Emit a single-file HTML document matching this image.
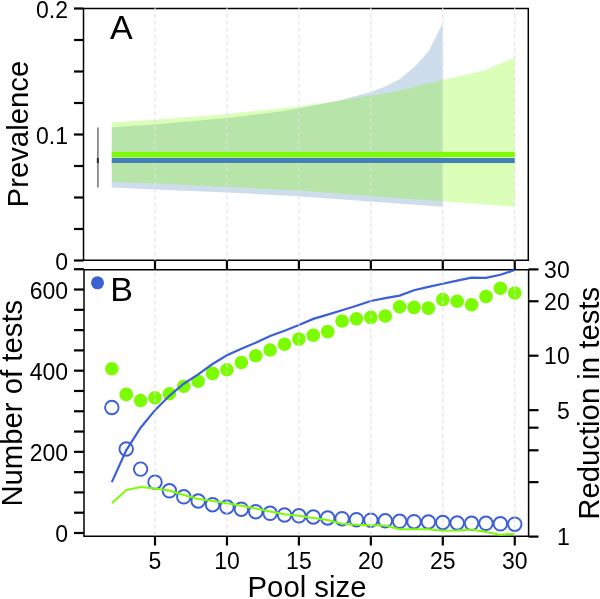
<!DOCTYPE html>
<html><head><meta charset="utf-8"><style>
html,body{margin:0;padding:0;background:#fff;width:600px;height:599px;overflow:hidden}
svg{display:block;will-change:transform}
text{font-family:"Liberation Sans",sans-serif;fill:#000}
</style></head><body>
<svg width="600" height="599" viewBox="0 0 600 599">
<rect width="600" height="599" fill="#fff"/>
<polyline points="83.5,8.5 528.3,8.5 528.3,260.3 83.5,260.3 83.5,8.5" fill="none" stroke="#000" stroke-width="1.5"/>
<polyline points="84,269.7 528.6,269.7 528.6,536.3 84,536.3 84,269.7" fill="none" stroke="#000" stroke-width="1.5"/>
<polygon points="111.8,127.3 155,124.5 227,118 280,111.6 298,108.4 337,101 371,92 385.2,86.5 399.5,79.3 414.6,66.8 428.8,51 442.7,23.3 442.7,206.7 370,201.5 298,196.3 227,192.6 155,189.4 111.8,187.5" fill="rgb(70,130,180)" fill-opacity="0.27"/>
<polygon points="111.8,122.2 155,119.8 227,114 298,106.6 337,101 371,95.6 390,92.8 442.5,80 485,70.3 514.75,57.4 514.75,206.7 442.5,201.3 370,196 298,190.5 227,186.8 155,183.5 111.8,181.7" fill="rgb(124,252,0)" fill-opacity="0.28"/>
<circle cx="111.83" cy="407.5" r="6.75" fill="none" stroke="rgb(60,95,215)" stroke-width="1.9"/>
<circle cx="126.22" cy="449" r="6.75" fill="none" stroke="rgb(60,95,215)" stroke-width="1.9"/>
<circle cx="140.61" cy="469.1" r="6.75" fill="none" stroke="rgb(60,95,215)" stroke-width="1.9"/>
<circle cx="155" cy="482.2" r="6.75" fill="none" stroke="rgb(60,95,215)" stroke-width="1.9"/>
<circle cx="169.39" cy="490.8" r="6.75" fill="none" stroke="rgb(60,95,215)" stroke-width="1.9"/>
<circle cx="183.78" cy="496.8" r="6.75" fill="none" stroke="rgb(60,95,215)" stroke-width="1.9"/>
<circle cx="198.17" cy="501" r="6.75" fill="none" stroke="rgb(60,95,215)" stroke-width="1.9"/>
<circle cx="212.56" cy="504.7" r="6.75" fill="none" stroke="rgb(60,95,215)" stroke-width="1.9"/>
<circle cx="226.95" cy="507" r="6.75" fill="none" stroke="rgb(60,95,215)" stroke-width="1.9"/>
<circle cx="241.34" cy="509.2" r="6.75" fill="none" stroke="rgb(60,95,215)" stroke-width="1.9"/>
<circle cx="255.73" cy="511.7" r="6.75" fill="none" stroke="rgb(60,95,215)" stroke-width="1.9"/>
<circle cx="270.12" cy="513.3" r="6.75" fill="none" stroke="rgb(60,95,215)" stroke-width="1.9"/>
<circle cx="284.51" cy="515" r="6.75" fill="none" stroke="rgb(60,95,215)" stroke-width="1.9"/>
<circle cx="298.9" cy="515.8" r="6.75" fill="none" stroke="rgb(60,95,215)" stroke-width="1.9"/>
<circle cx="313.29" cy="517" r="6.75" fill="none" stroke="rgb(60,95,215)" stroke-width="1.9"/>
<circle cx="327.68" cy="518" r="6.75" fill="none" stroke="rgb(60,95,215)" stroke-width="1.9"/>
<circle cx="342.07" cy="518.7" r="6.75" fill="none" stroke="rgb(60,95,215)" stroke-width="1.9"/>
<circle cx="356.46" cy="519.7" r="6.75" fill="none" stroke="rgb(60,95,215)" stroke-width="1.9"/>
<circle cx="370.85" cy="520.2" r="6.75" fill="none" stroke="rgb(60,95,215)" stroke-width="1.9"/>
<circle cx="385.24" cy="520.8" r="6.75" fill="none" stroke="rgb(60,95,215)" stroke-width="1.9"/>
<circle cx="399.63" cy="521.3" r="6.75" fill="none" stroke="rgb(60,95,215)" stroke-width="1.9"/>
<circle cx="414.02" cy="521.7" r="6.75" fill="none" stroke="rgb(60,95,215)" stroke-width="1.9"/>
<circle cx="428.41" cy="522" r="6.75" fill="none" stroke="rgb(60,95,215)" stroke-width="1.9"/>
<circle cx="442.8" cy="522.5" r="6.75" fill="none" stroke="rgb(60,95,215)" stroke-width="1.9"/>
<circle cx="457.19" cy="523" r="6.75" fill="none" stroke="rgb(60,95,215)" stroke-width="1.9"/>
<circle cx="471.58" cy="523.3" r="6.75" fill="none" stroke="rgb(60,95,215)" stroke-width="1.9"/>
<circle cx="485.97" cy="523.3" r="6.75" fill="none" stroke="rgb(60,95,215)" stroke-width="1.9"/>
<circle cx="500.36" cy="523.8" r="6.75" fill="none" stroke="rgb(60,95,215)" stroke-width="1.9"/>
<circle cx="514.75" cy="524.2" r="6.75" fill="none" stroke="rgb(60,95,215)" stroke-width="1.9"/>
<polyline points="111.83,503.3 126.22,490.1 140.61,487 155,488.4 169.39,490.5 183.78,495 198.17,499 212.56,501 226.95,503.3 241.34,505.8 255.73,508.4 270.12,511.4 284.51,514.2 298.9,515.8 313.29,518 327.68,520 342.07,523.8 356.46,524.7 370.85,525.2 385.24,525.5 399.63,529.2 414.02,529.2 428.41,529.2 442.8,530.8 457.19,530.4 471.58,529.5 485.97,532 500.36,534.7 514.75,533.7" fill="none" stroke="#7cfc00" stroke-width="2"/>
<circle cx="111.83" cy="368.7" r="6.8" fill="#7cfc00"/>
<circle cx="126.22" cy="394.4" r="6.8" fill="#7cfc00"/>
<circle cx="140.61" cy="400.5" r="6.8" fill="#7cfc00"/>
<circle cx="155" cy="397.7" r="6.8" fill="#7cfc00"/>
<circle cx="169.39" cy="393.8" r="6.8" fill="#7cfc00"/>
<circle cx="183.78" cy="386.3" r="6.8" fill="#7cfc00"/>
<circle cx="198.17" cy="381.2" r="6.8" fill="#7cfc00"/>
<circle cx="212.56" cy="373.4" r="6.8" fill="#7cfc00"/>
<circle cx="226.95" cy="369.8" r="6.8" fill="#7cfc00"/>
<circle cx="241.34" cy="362.5" r="6.8" fill="#7cfc00"/>
<circle cx="255.73" cy="355.8" r="6.8" fill="#7cfc00"/>
<circle cx="270.12" cy="350" r="6.8" fill="#7cfc00"/>
<circle cx="284.51" cy="344.2" r="6.8" fill="#7cfc00"/>
<circle cx="298.9" cy="339.1" r="6.8" fill="#7cfc00"/>
<circle cx="313.29" cy="335.2" r="6.8" fill="#7cfc00"/>
<circle cx="327.68" cy="331.6" r="6.8" fill="#7cfc00"/>
<circle cx="342.07" cy="321" r="6.8" fill="#7cfc00"/>
<circle cx="356.46" cy="318.8" r="6.8" fill="#7cfc00"/>
<circle cx="370.85" cy="317.4" r="6.8" fill="#7cfc00"/>
<circle cx="385.24" cy="316" r="6.8" fill="#7cfc00"/>
<circle cx="399.63" cy="306.8" r="6.8" fill="#7cfc00"/>
<circle cx="414.02" cy="307.4" r="6.8" fill="#7cfc00"/>
<circle cx="428.41" cy="308.1" r="6.8" fill="#7cfc00"/>
<circle cx="442.8" cy="299.5" r="6.8" fill="#7cfc00"/>
<circle cx="457.19" cy="301.2" r="6.8" fill="#7cfc00"/>
<circle cx="471.58" cy="304.7" r="6.8" fill="#7cfc00"/>
<circle cx="485.97" cy="296.5" r="6.8" fill="#7cfc00"/>
<circle cx="500.36" cy="288.3" r="6.8" fill="#7cfc00"/>
<circle cx="514.75" cy="293" r="6.8" fill="#7cfc00"/>
<polyline points="111.83,482.15 126.22,450.29 140.61,427.69 155,410.16 169.39,395.84 183.78,383.73 198.17,374.3 212.56,363.99 226.95,355.3 241.34,348.7 255.73,342.7 270.12,336 284.51,330.7 298.9,325.1 313.29,318.9 327.68,314.6 342.07,310.2 356.46,305.7 370.85,301 385.24,298.2 399.63,295.6 414.02,290.28 428.41,286.93 442.8,283.73 457.19,280.64 471.58,277.68 485.97,277.8 500.36,274.8 514.75,270" fill="none" stroke="rgb(60,95,215)" stroke-width="2.2"/>
<circle cx="97.5" cy="282.8" r="6.5" fill="rgb(60,95,210)"/>
<line x1="155" y1="6.5" x2="155" y2="536" stroke="#e0e0e0" stroke-width="1.1" stroke-dasharray="4,3"/>
<line x1="226.95" y1="6.5" x2="226.95" y2="536" stroke="#e0e0e0" stroke-width="1.1" stroke-dasharray="4,3"/>
<line x1="298.9" y1="6.5" x2="298.9" y2="536" stroke="#e0e0e0" stroke-width="1.1" stroke-dasharray="4,3"/>
<line x1="370.85" y1="6.5" x2="370.85" y2="536" stroke="#e0e0e0" stroke-width="1.1" stroke-dasharray="4,3"/>
<line x1="442.8" y1="6.5" x2="442.8" y2="536" stroke="#e0e0e0" stroke-width="1.1" stroke-dasharray="4,3"/>
<line x1="514.75" y1="6.5" x2="514.75" y2="536" stroke="#e0e0e0" stroke-width="1.1" stroke-dasharray="4,3"/>
<line x1="111.8" y1="154.4" x2="514.75" y2="154.4" stroke="#7cfc00" stroke-width="5"/>
<line x1="111.8" y1="160.4" x2="514.75" y2="160.4" stroke="rgb(68,128,184)" stroke-width="5"/>
<line x1="97.9" y1="127.5" x2="97.9" y2="187.5" stroke="#888" stroke-width="1.8"/>
<line x1="97.9" y1="158" x2="97.9" y2="163" stroke="#333" stroke-width="2.2"/>
<line x1="74" y1="8.5" x2="83.5" y2="8.5" stroke="#000" stroke-width="2.2"/>
<line x1="74" y1="40" x2="83.5" y2="40" stroke="#000" stroke-width="2.2"/>
<line x1="74" y1="71.5" x2="83.5" y2="71.5" stroke="#000" stroke-width="2.2"/>
<line x1="74" y1="103" x2="83.5" y2="103" stroke="#000" stroke-width="2.2"/>
<line x1="74" y1="134.5" x2="83.5" y2="134.5" stroke="#000" stroke-width="2.2"/>
<line x1="74" y1="166" x2="83.5" y2="166" stroke="#000" stroke-width="2.2"/>
<line x1="74" y1="197.5" x2="83.5" y2="197.5" stroke="#000" stroke-width="2.2"/>
<line x1="74" y1="229" x2="83.5" y2="229" stroke="#000" stroke-width="2.2"/>
<line x1="74" y1="260.5" x2="83.5" y2="260.5" stroke="#000" stroke-width="2.2"/>
<line x1="155" y1="260.5" x2="155" y2="269.7" stroke="#000" stroke-width="2.2"/>
<line x1="226.95" y1="260.5" x2="226.95" y2="269.7" stroke="#000" stroke-width="2.2"/>
<line x1="298.9" y1="260.5" x2="298.9" y2="269.7" stroke="#000" stroke-width="2.2"/>
<line x1="370.85" y1="260.5" x2="370.85" y2="269.7" stroke="#000" stroke-width="2.2"/>
<line x1="442.8" y1="260.5" x2="442.8" y2="269.7" stroke="#000" stroke-width="2.2"/>
<line x1="514.75" y1="260.5" x2="514.75" y2="269.7" stroke="#000" stroke-width="2.2"/>
<line x1="74" y1="533" x2="84" y2="533" stroke="#000" stroke-width="2.2"/>
<line x1="74" y1="512.71" x2="84" y2="512.71" stroke="#000" stroke-width="2.2"/>
<line x1="74" y1="492.42" x2="84" y2="492.42" stroke="#000" stroke-width="2.2"/>
<line x1="74" y1="472.13" x2="84" y2="472.13" stroke="#000" stroke-width="2.2"/>
<line x1="74" y1="451.84" x2="84" y2="451.84" stroke="#000" stroke-width="2.2"/>
<line x1="74" y1="431.55" x2="84" y2="431.55" stroke="#000" stroke-width="2.2"/>
<line x1="74" y1="411.26" x2="84" y2="411.26" stroke="#000" stroke-width="2.2"/>
<line x1="74" y1="390.97" x2="84" y2="390.97" stroke="#000" stroke-width="2.2"/>
<line x1="74" y1="370.68" x2="84" y2="370.68" stroke="#000" stroke-width="2.2"/>
<line x1="74" y1="350.39" x2="84" y2="350.39" stroke="#000" stroke-width="2.2"/>
<line x1="74" y1="330.1" x2="84" y2="330.1" stroke="#000" stroke-width="2.2"/>
<line x1="74" y1="309.81" x2="84" y2="309.81" stroke="#000" stroke-width="2.2"/>
<line x1="74" y1="289.52" x2="84" y2="289.52" stroke="#000" stroke-width="2.2"/>
<line x1="74" y1="269.23" x2="84" y2="269.23" stroke="#000" stroke-width="2.2"/>
<line x1="155" y1="536.3" x2="155" y2="545.5" stroke="#000" stroke-width="2.2"/>
<line x1="226.95" y1="536.3" x2="226.95" y2="545.5" stroke="#000" stroke-width="2.2"/>
<line x1="298.9" y1="536.3" x2="298.9" y2="545.5" stroke="#000" stroke-width="2.2"/>
<line x1="370.85" y1="536.3" x2="370.85" y2="545.5" stroke="#000" stroke-width="2.2"/>
<line x1="442.8" y1="536.3" x2="442.8" y2="545.5" stroke="#000" stroke-width="2.2"/>
<line x1="514.75" y1="536.3" x2="514.75" y2="545.5" stroke="#000" stroke-width="2.2"/>
<line x1="528.6" y1="536.6" x2="538.5" y2="536.6" stroke="#000" stroke-width="2.2"/>
<line x1="528.6" y1="482.15" x2="538.5" y2="482.15" stroke="#000" stroke-width="2.2"/>
<line x1="528.6" y1="450.29" x2="538.5" y2="450.29" stroke="#000" stroke-width="2.2"/>
<line x1="528.6" y1="427.69" x2="538.5" y2="427.69" stroke="#000" stroke-width="2.2"/>
<line x1="528.6" y1="410.16" x2="538.5" y2="410.16" stroke="#000" stroke-width="2.2"/>
<line x1="528.6" y1="355.71" x2="538.5" y2="355.71" stroke="#000" stroke-width="2.2"/>
<line x1="528.6" y1="301.26" x2="538.5" y2="301.26" stroke="#000" stroke-width="2.2"/>
<line x1="528.6" y1="269.4" x2="538.5" y2="269.4" stroke="#000" stroke-width="2.2"/>
<text x="68" y="17.5" font-size="23" text-anchor="end" >0.2</text>
<text x="68" y="143.5" font-size="23" text-anchor="end" >0.1</text>
<text x="68" y="269.5" font-size="23" text-anchor="end" >0</text>
<text x="68" y="298.52" font-size="23" text-anchor="end" >600</text>
<text x="68" y="379.68" font-size="23" text-anchor="end" >400</text>
<text x="68" y="460.84" font-size="23" text-anchor="end" >200</text>
<text x="68" y="542" font-size="23" text-anchor="end" >0</text>
<text x="569.7" y="545.1" font-size="23" text-anchor="end" >1</text>
<text x="569.7" y="418.66" font-size="23" text-anchor="end" >5</text>
<text x="569.7" y="364.21" font-size="23" text-anchor="end" >10</text>
<text x="569.7" y="309.76" font-size="23" text-anchor="end" >20</text>
<text x="569.7" y="277.9" font-size="23" text-anchor="end" >30</text>
<text x="155" y="568.7" font-size="23" text-anchor="middle" >5</text>
<text x="226.95" y="568.7" font-size="23" text-anchor="middle" >10</text>
<text x="298.9" y="568.7" font-size="23" text-anchor="middle" >15</text>
<text x="370.85" y="568.7" font-size="23" text-anchor="middle" >20</text>
<text x="442.8" y="568.7" font-size="23" text-anchor="middle" >25</text>
<text x="514.75" y="568.7" font-size="23" text-anchor="middle" >30</text>
<text x="307" y="596.5" font-size="29.3" text-anchor="middle" >Pool size</text>
<text transform="translate(28,134.1) rotate(-90)" font-size="29.3" text-anchor="middle">Prevalence</text>
<text transform="translate(22,403.2) rotate(-90)" font-size="29.3" text-anchor="middle">Number of tests</text>
<text transform="translate(598.5,403.3) rotate(-90)" font-size="29.3" text-anchor="middle">Reduction in tests</text>
<text x="110" y="39.3" font-size="34" text-anchor="start" >A</text>
<text x="110.2" y="300.8" font-size="34" text-anchor="start" >B</text>
</svg>
</body></html>
